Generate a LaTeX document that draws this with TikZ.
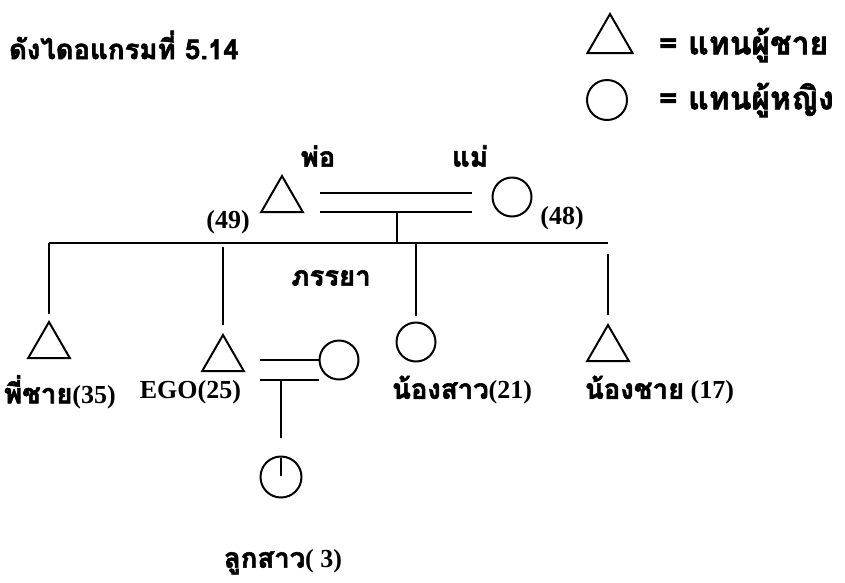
\documentclass[tikz,border=0pt]{standalone}
\usepackage{fontspec}
\setmainfont{Liberation Serif}
\newfontfamily\thai[Script=Thai, Scale=1.06, FakeBold=2]{Loma}
\usetikzlibrary{shapes.geometric}

\begin{document}
\begin{tikzpicture}[x=1pt,y=-1pt,line width=2pt,font=\bfseries\fontsize{26}{31}\selectfont]
    \tikzstyle{male}=[draw, regular polygon, regular polygon sides=3, minimum size=48pt, inner sep=0pt]
    \tikzstyle{female}=[draw, circle, minimum size=39pt, inner sep=0pt]
    \tikzstyle{lbl}=[inner sep=0pt]
    \tikzstyle{key}=[lbl, anchor=west, font=\bfseries\fontsize{30}{36}\selectfont]
    \useasboundingbox (0,0) rectangle (845,582);

    % title and legend
    \node[lbl, anchor=west] (title) at (8,45) {\thai ดังไดอแกรมที่ 5.14};
    \node[male, minimum size=52pt] (keyM) at (610,40) {};
    \node[female, minimum size=40pt] (keyF) at (607,100) {};
    \node[key] (keyMt) at (658,45) {\thai = แทนผู้ชาย};
    \node[key] (keyFt) at (658,100) {\thai = แทนผู้หญิง};

    % parents
    \node[male] (F) at (282,200) {};
    \node[female] (M) at (512,197) {};
    \node[lbl] (Ft) at (318,156) {\thai พ่อ};
    \node[lbl] (Mt) at (470,156) {\thai แม่};
    \node[lbl] (Fa) at (228,222) {(49)};
    \node[lbl] (Ma) at (562,218) {(48)};
    \coordinate (FM1) at (320,193);
    \coordinate (MF1) at (472,193);
    \coordinate (FM2) at (320,212);
    \coordinate (MF2) at (472,212);
    \coordinate (FMc) at (397,212);
    \coordinate (S0) at (397,243);
    \draw (FM1) -- (MF1);
    \draw (FM2) -- (MF2);
    \draw (FMc) -- (S0);

    % siblings
    \coordinate (Sa) at (49,243);
    \coordinate (Sd) at (608,243);
    \draw (Sa) -- (Sd);
    \node[male] (B) at (49,346) {};
    \node[male] (E) at (223,359) {};
    \node[female] (Z) at (416,342) {};
    \node[male] (YB) at (608,349) {};
    \draw (Sa) -- ([yshift=6pt]B.corner 1);
    \draw (223,247) -- ([yshift=8pt]E.corner 1);
    \draw (416,243) -- ([yshift=6pt]Z.north);
    \draw (608,254) -- ([yshift=8pt]YB.corner 1);
    \node[lbl, anchor=west] (Bt) at (3,392) {{\thai พี่ชาย}(35)};
    \node[lbl, anchor=east] (Et) at (242,392) {EGO(25)};
    \node[lbl] (Zt) at (462,390) {{\thai น้องสาว}(21)};
    \node[lbl, anchor=west] (YBt) at (584,390) {{\thai น้องชาย} (17)};

    % ego's family
    \node[female] (W) at (339,360) {};
    \node[lbl] (Wt) at (331,278) {\thai ภรรยา};
    \coordinate (EW1) at (260,360);
    \coordinate (EW2) at (260,380);
    \draw (EW1) -- (W.west);
    \draw (EW2) -- (W.west |- EW2);
    \coordinate (EWc) at (281,380);
    \coordinate (Cd) at (281,438);
    \draw (EWc) -- (Cd);
    \node[female, minimum size=41pt] (C) at (281,477) {};
    \draw ([yshift=-2pt]C.north) -- ([yshift=1pt]C.center);
    \node[lbl] (Ct) at (283,562) {{\thai ลูกสาว}( 3)};
\end{tikzpicture}
\end{document}
